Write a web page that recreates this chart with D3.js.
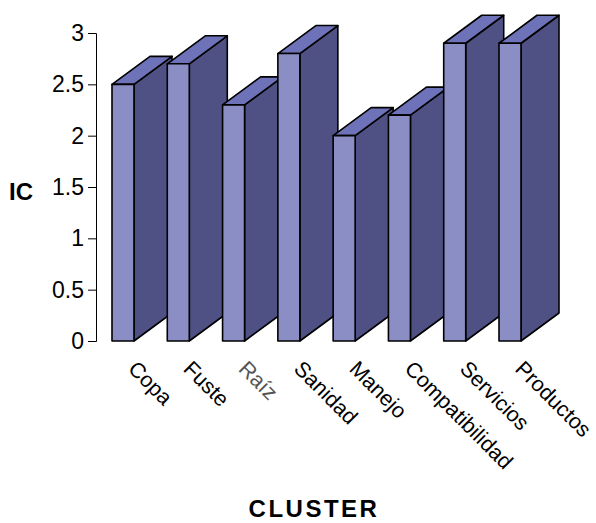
<!DOCTYPE html>
<html><head><meta charset="utf-8">
<script src="https://cdn.jsdelivr.net/npm/d3@7"></script>
<style>body{margin:0;background:#fff}svg{display:block}text{font-family:"Liberation Sans",Arial,sans-serif}</style>
</head><body>
<svg id="c" width="596" height="523"></svg>
<script>
const categories = ["Copa","Fuste","Raíz","Sanidad","Manejo","Compatibilidad","Servicios","Productos"];
const values = [2.5, 2.7, 2.3, 2.8, 2.0, 2.2, 2.9, 2.9];
const yTicks = [0, 0.5, 1, 1.5, 2, 2.5, 3];

const svg = d3.select("#c");
const x = d3.scaleBand().domain(categories).range([112, 521]).paddingInner(0.602).paddingOuter(0);
const y = d3.scaleLinear().domain([0, 3]).range([341, 33]);
const dx = 38, dy = 28;
const cFront = "#8b8ec4", cSide = "#4f5185", cTop = "#6e72b8";

const g = svg.append("g");
categories.forEach((c, i) => {
  const x0 = x(c), x1 = x0 + x.bandwidth(), yt = y(values[i]), yb = y(0);
  const bg = g.append("g").attr("stroke", "#000").attr("stroke-width", 1.6).attr("stroke-linejoin", "round");
  bg.append("path").attr("fill", cSide)
    .attr("d", `M${x1},${yb}L${x1+dx},${yb-dy}L${x1+dx},${yt-dy}L${x1},${yt}Z`);
  bg.append("path").attr("fill", cTop)
    .attr("d", `M${x0},${yt}L${x1},${yt}L${x1+dx},${yt-dy}L${x0+dx},${yt-dy}Z`);
  bg.append("rect").attr("fill", cFront).attr("x", x0).attr("y", yt).attr("width", x.bandwidth()).attr("height", yb - yt);
});

const ax = svg.append("g").attr("transform", "translate(96,0)")
  .call(d3.axisLeft(y).tickValues(yTicks).tickSize(8).tickPadding(4).tickFormat(d => String(d)));
ax.select(".domain").attr("stroke", "#000").attr("stroke-width", 1);
ax.selectAll(".tick line").attr("stroke", "#000");
ax.selectAll("text").attr("font-size", 23).attr("fill", "#000").attr("font-family", '"Liberation Sans",Arial,sans-serif');

svg.append("g").selectAll("text").data(categories).join("text")
  .attr("transform", d => `translate(${x(d) + x.bandwidth()/2 + 4},370) rotate(45)`)
  .attr("font-size", 21.5).attr("fill", d => d === "Raíz" ? "#555" : "#000")
  .text(d => d);

svg.append("text").attr("x", 9).attr("y", 200).attr("font-size", 24).attr("font-weight", "bold").text("IC");
svg.append("text").attr("x", 314).attr("y", 517).attr("text-anchor", "middle").attr("font-size", 24)
  .attr("font-weight", "bold").attr("letter-spacing", 2.5).text("CLUSTER");
</script>
</body></html>
